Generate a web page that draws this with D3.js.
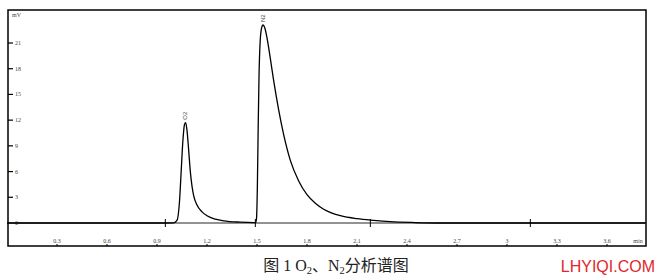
<!DOCTYPE html>
<html>
<head>
<meta charset="utf-8">
<script src="https://cdn.jsdelivr.net/npm/d3@7"></script>
<style>
  body { margin: 0; background: #fff; }
  svg { display: block; }
  .tick-lab { font-family: "Liberation Serif", serif; font-size: 6px; fill: #444; }
</style>
</head>
<body>
<div id="chart"></div>
<script>
// chromatogram trace: time (min) and signal (mV)
var times = [0, 0.9, 1.0, 1.02, 1.035, 1.045, 1.055, 1.065, 1.072, 1.08, 1.09, 1.1, 1.11, 1.12, 1.14, 1.17, 1.2, 1.25, 1.3, 1.4, 1.48, 1.492,
  1.497, 1.502, 1.507, 1.512, 1.518, 1.527, 1.536, 1.546, 1.56, 1.58, 1.6, 1.63, 1.66, 1.7, 1.75, 1.8, 1.85, 1.9, 1.95, 2.0, 2.1, 2.2, 2.3, 2.45, 2.6, 3.83];
var signal = [0, 0, 0.02, 0.3, 2.5, 6, 9.5, 11.5, 11.7, 10.8, 8.5, 6.0, 4.3, 3.2, 2.1, 1.3, 0.85, 0.45, 0.25, 0.1, 0.05, 0.05,
  0.5, 4, 11, 17, 20.8, 22.7, 23.1, 22.8, 21.6, 19.2, 16.6, 13.2, 10.3, 7.3, 4.9, 3.3, 2.3, 1.6, 1.15, 0.85, 0.5, 0.3, 0.15, 0.05, 0, 0];

var yTicks = [0, 3, 6, 9, 12, 15, 18, 21];
var xTicks = [0.3, 0.6, 0.9, 1.2, 1.5, 1.8, 2.1, 2.4, 2.7, 3, 3.3, 3.6];
var eventMarks = [0.95, 1.49, 2.18, 3.14];
var peakNames = ["O2", "N2"];
var peakTimes = [1.068, 1.534];
var peakHeights = [11.7, 23.1];

var svgWidth = 657;
var svgHeight = 279;
var box = { left: 8, top: 10, right: 646, bottom: 246 };

var svg = d3.select("#chart")
  .append("svg")
  .attr("width", svgWidth)
  .attr("height", svgHeight);

var x = d3.scaleLinear().domain([0, 3.834]).range([7, 646]);
var y = d3.scaleLinear().domain([0, 21]).range([223, 43]);

// frame
svg.append("rect")
  .attr("x", box.left)
  .attr("y", box.top)
  .attr("width", box.right - box.left)
  .attr("height", box.bottom - box.top)
  .attr("fill", "none")
  .attr("stroke", "#000")
  .attr("stroke-width", 1.5);

// y ticks
var yg = svg.append("g");
yTicks.forEach(function(v) {
  if (v > 0) {
    yg.append("line")
      .attr("x1", box.left).attr("x2", box.left + 5)
      .attr("y1", y(v)).attr("y2", y(v))
      .attr("stroke", "#000").attr("stroke-width", 1.2);
  }
  yg.append("text")
    .attr("class", "tick-lab")
    .attr("x", 15)
    .attr("y", y(v) + 2)
    .text(v);
});
svg.append("text")
  .attr("class", "tick-lab")
  .attr("x", 12)
  .attr("y", 17)
  .text("mV");

// x ticks along the bottom of the frame
var xg = svg.append("g");
xTicks.forEach(function(v) {
  xg.append("line")
    .attr("x1", x(v)).attr("x2", x(v))
    .attr("y1", box.bottom).attr("y2", box.bottom - 2)
    .attr("stroke", "#000");
  xg.append("text")
    .attr("class", "tick-lab")
    .attr("x", x(v))
    .attr("y", 243)
    .attr("text-anchor", "middle")
    .text(v);
});
svg.append("text")
  .attr("class", "tick-lab")
  .attr("x", 638)
  .attr("y", 243)
  .attr("text-anchor", "middle")
  .text("min");

// baseline
svg.append("line")
  .attr("x1", box.left).attr("x2", box.right)
  .attr("y1", y(0)).attr("y2", y(0))
  .attr("stroke", "#000").attr("stroke-width", 1.2);
svg.append("line")
  .attr("x1", x(1.0)).attr("x2", x(2.45))
  .attr("y1", y(0)).attr("y2", y(0))
  .attr("stroke", "#999").attr("stroke-width", 1.4);

// integration event marks
eventMarks.forEach(function(t) {
  svg.append("line")
    .attr("x1", x(t)).attr("x2", x(t))
    .attr("y1", y(0) - 4).attr("y2", y(0) + 4)
    .attr("stroke", "#000");
});

// trace
var pts = times.map(function(t, i) { return [t, signal[i]]; });
var line = d3.line()
  .x(d => x(d[0]))
  .y(d => y(d[1]))
  .curve(d3.curveMonotoneX);
svg.append("path")
  .datum(pts)
  .attr("d", line)
  .attr("fill", "none")
  .attr("stroke", "#000")
  .attr("stroke-width", 1.3);

// peak names, rotated
peakNames.forEach(function(n, i) {
  svg.append("text")
    .attr("transform", `translate(${x(peakTimes[i]) + 2}, ${y(peakHeights[i]) - 3}) rotate(-90)`)
    .attr("font-family", "Liberation Sans, sans-serif")
    .attr("font-size", 6)
    .attr("fill", "#444")
    .text(n);
});

// caption
var cap = svg.append("text")
  .attr("x", 336)
  .attr("y", 271)
  .attr("text-anchor", "middle")
  .attr("font-family", "Liberation Serif, Noto Sans CJK SC, serif")
  .attr("font-size", 16)
  .attr("fill", "#222");
cap.append("tspan").text("图 1 O");
cap.append("tspan").attr("font-size", 10.5).attr("dy", 3).text("2");
cap.append("tspan").attr("dy", -3).text("、N");
cap.append("tspan").attr("font-size", 10.5).attr("dy", 3).text("2");
cap.append("tspan").attr("dy", -3).text("分析谱图");

svg.append("text")
  .attr("x", 655)
  .attr("y", 272)
  .attr("text-anchor", "end")
  .attr("font-family", "Liberation Sans, sans-serif")
  .attr("font-size", 16)
  .attr("fill", "#e0262b")
  .text("LHYIQI.COM");
</script>
</body>
</html>
